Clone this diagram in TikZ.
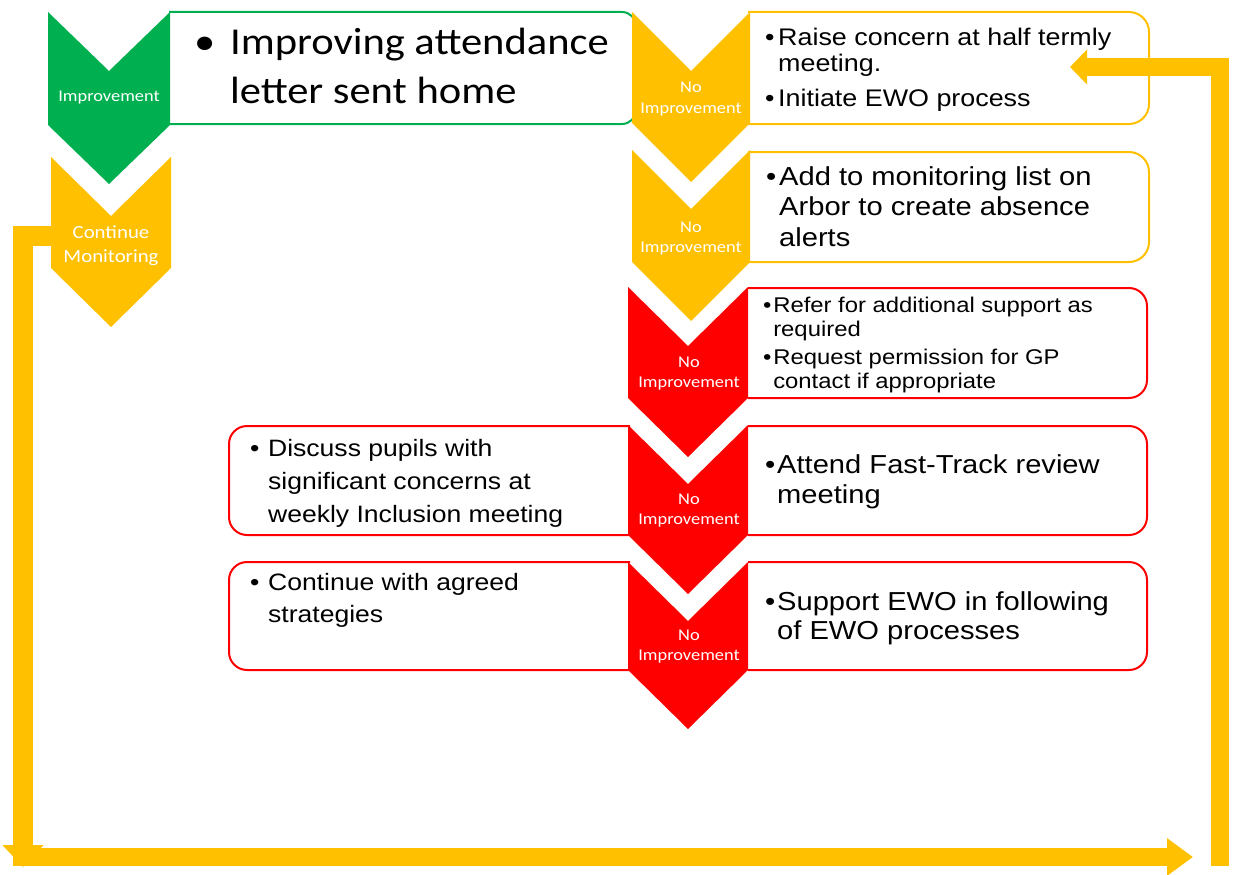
\documentclass[tikz,border=0pt]{standalone}
\usepackage{fontspec}
\usepackage{graphicx}
\setmainfont{Liberation Sans}
\newfontfamily\calfont{Carlito}
\usetikzlibrary{arrows.meta}
\definecolor{cgreen}{HTML}{00B050}
\definecolor{cyellow}{HTML}{FFC000}
\definecolor{cred}{HTML}{FF0000}
% chevron: colour, centre x, top y, side-bottom y, half width
\newcommand\mychev[5]{\fill[#1] (#2-#5,#3) -- (#2,#3+59) -- (#2+#5,#3) -- (#2+#5,#4) -- (#2,#4+59) -- (#2-#5,#4) -- cycle;}
\newcommand\sx[1]{\scalebox{1.12}[1]{#1}}
\newcommand\bul[2]{\hangindent=#1\relax\hangafter=1\relax\noindent\makebox[#1][l]{•}#2\par}
\newcommand\twolab[2]{\sx{\calfont\fontsize{#1}{20}\selectfont\begin{tabular}{@{}c@{}}#2\end{tabular}}}
\begin{document}
\begin{tikzpicture}[x=1pt,y=-1pt,
  tx/.style={anchor=base west, inner sep=0pt, text=black},
  lab/.style={inner sep=0pt, text=white},
  boxline/.style={line width=2pt},
  loopline/.style={draw=cyellow, line join=miter}]
\useasboundingbox (0,0) rectangle (1234,875);

% ---------- boxes ----------
\begin{scope}
  \clip (169,0) rectangle (660,200);
  \draw[cgreen, boxline, rounded corners=14pt] (120,12) rectangle (636,124);
\end{scope}
\begin{scope}
  \clip (748,0) rectangle (1234,875);
  \draw[cyellow, boxline, rounded corners=20pt] (700,12) rectangle (1149,124);
  \draw[cyellow, boxline, rounded corners=20pt] (700,152) rectangle (1149,262);
  \draw[cred, boxline, rounded corners=18pt] (700,288) rectangle (1147,398);
  \draw[cred, boxline, rounded corners=18pt] (700,426) rectangle (1147,535);
  \draw[cred, boxline, rounded corners=18pt] (700,562) rectangle (1147,670);
\end{scope}
\begin{scope}
  \clip (0,0) rectangle (630,875);
  \draw[cred, boxline, rounded corners=18pt] (229,426) rectangle (680,535);
  \draw[cred, boxline, rounded corners=18pt] (229,562) rectangle (680,670);
\end{scope}

% ---------- chevrons ----------
\mychev{cgreen}{109}{12}{125}{61}
\mychev{cyellow}{111}{157}{268}{60}
\mychev{cyellow}{691}{12}{123}{59}
\mychev{cyellow}{691}{150}{262}{59}
\mychev{cred}{688}{287}{398}{60}
\mychev{cred}{688}{425}{535}{60}
\mychev{cred}{688}{562}{670}{60}

% ---------- chevron labels ----------
\node[lab] (l1) at (109,98) {\sx{\calfont\fontsize{16.4}{20}\selectfont Improvement}};
\node[lab] (l2) at (111,246) {\sx{\calfont\fontsize{18.6}{24}\selectfont\begin{tabular}{@{}c@{}}Continue\\Monitoring\end{tabular}}};
\node[lab] (l3) at (691,99) {\twolab{16.4}{No\\Improvement}};
\node[lab] (l4) at (691,238) {\twolab{16.4}{No\\Improvement}};
\node[lab] (l5) at (689,373) {\twolab{16.4}{No\\Improvement}};
\node[lab] (l6) at (689,510) {\twolab{16.4}{No\\Improvement}};
\node[lab] (l7) at (689,646) {\twolab{16.4}{No\\Improvement}};

% ---------- box texts ----------
\node[tx] (t1) at (194,55) {\sx{\parbox[t]{440pt}{\calfont\fontsize{38}{49}\selectfont
  \bul{32pt}{Improving attendance\\letter sent home}}}};
\node[tx] (t3) at (765,46) {\sx{\parbox[t]{400pt}{\fontsize{24}{26}\selectfont
  \bul{11.6pt}{Raise concern at half termly\\meeting.}\vspace{9pt}
  \bul{11.6pt}{Initiate EWO process}}}};
\node[tx] (t4) at (766,185) {\sx{\parbox[t]{400pt}{\fontsize{26}{30.5}\selectfont
  \bul{11.6pt}{Add to monitoring list on\\Arbor to create absence\\alerts}}}};
\node[tx] (t5) at (763,312) {\sx{\parbox[t]{400pt}{\fontsize{21.3}{24}\selectfont
  \bul{9pt}{Refer for additional support as\\required}\vspace{4pt}
  \bul{9pt}{Request permission for GP\\contact if appropriate}}}};
\node[tx] (t6r) at (765,473) {\sx{\parbox[t]{400pt}{\fontsize{26}{30}\selectfont
  \bul{10.7pt}{Attend Fast-Track review\\meeting}}}};
\node[tx] (t7r) at (765,610) {\sx{\parbox[t]{400pt}{\fontsize{26}{29}\selectfont
  \bul{10.7pt}{Support EWO in following\\of EWO processes}}}};
\node[tx] (t6l) at (250,456) {\sx{\parbox[t]{400pt}{\fontsize{23.7}{33}\selectfont
  \bul{16pt}{Discuss pupils with\\significant concerns at\\weekly Inclusion meeting}}}};
\node[tx] (t7l) at (250,590) {\sx{\parbox[t]{400pt}{\fontsize{23.7}{32}\selectfont
  \bul{16pt}{Continue with agreed\\strategies}}}};

% ---------- loop arrows ----------
\coordinate (a0) at (52,236);
\coordinate (a1) at (23,236);
\coordinate (a2) at (23,867);
\coordinate (b0) at (13,857);
\coordinate (b1) at (1193,857);
\coordinate (c0) at (1220,866);
\coordinate (c1) at (1220,67);
\coordinate (c2) at (1070,67);
\draw[loopline, line width=20pt, -{Triangle[length=22pt,width=40pt]}] (a0) -- (a1) -- (a2);
\draw[loopline, line width=18pt, -{Triangle[length=26pt,width=36pt]}] (b0) -- (b1);
\draw[loopline, line width=18pt, -{Triangle[length=17pt,width=34pt]}] (c0) -- (c1) -- (c2);
\end{tikzpicture}
\end{document}
